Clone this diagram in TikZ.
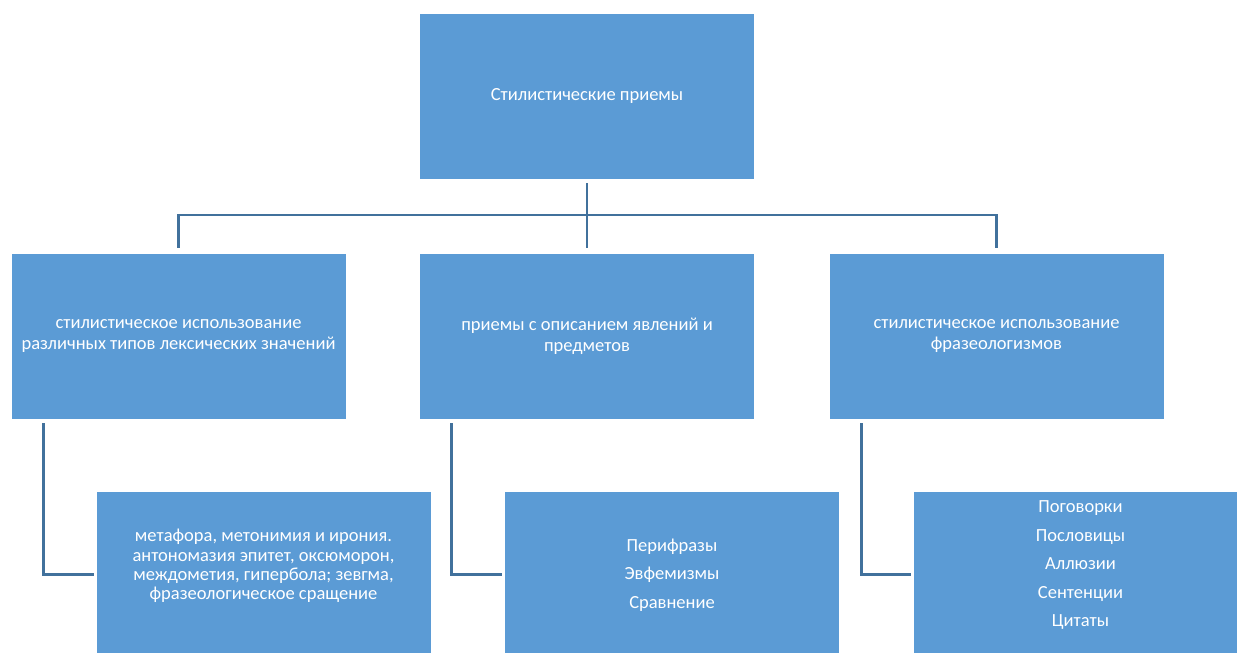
\documentclass[tikz,border=0pt]{standalone}
\usepackage{fontspec}
\setmainfont{Carlito}
\usepackage{xcolor}
\usepackage{tikz}

\definecolor{boxblue}{HTML}{5B9BD5}
\definecolor{lineblue}{HTML}{41719C}

\tikzset{
	blok/.style={fill=boxblue, draw=white, line width=0.6pt, minimum width=335, minimum height=166, inner sep=0pt},
	txt/.style={text=white, align=center, font=\fontsize{18.5}{19.3}\selectfont},
	con/.style={draw=lineblue, line width=2.8pt},
}

\begin{document}
\begin{tikzpicture}[x=1pt,y=-1pt]
	\clip (0,0) rectangle (1237,653);
	
	% top
	\node[blok,txt] (top) at (587,96) {Стилистические приемы};
	
	% middle row
	\node[blok,txt,font=\fontsize{18.5}{20.7}\selectfont] (lmid) at (178.5,336) {стилистическое использование\\различных типов лексических значений};
	\node[blok,txt,font=\fontsize{18.5}{20.7}\selectfont] (cmid) at (587,336) {приемы с описанием явлений и\\предметов};
	\node[blok,txt,font=\fontsize{18.5}{20.7}\selectfont] (rmid) at (996.5,336) {стилистическое использование\\фразеологизмов};
	
	% bottom row
	\node[blok] (lbot) at (263.5,574.5) {};
	\node[blok] (cbot) at (672,574.5) {};
	\node[blok] (rbot) at (1080.5,574.5) {};
	\node[txt] (ltext) at (263.5,566) {метафора, метонимия и ирония.\\антономазия эпитет, оксюморон,\\междометия, гипербола; зевгма,\\фразеологическое сращение};
	\node[txt,font=\fontsize{18.5}{28.4}\selectfont] (ctext) at (672,575) {Перифразы\\Эвфемизмы\\Сравнение};
	\node[txt,font=\fontsize{18.5}{28.5}\selectfont] (rtext) at (1080.5,565.3) {Поговорки\\Пословицы\\Аллюзии\\Сентенции\\Цитаты};
	
	\coordinate (bus) at (587,215);
	\draw[con,shorten <=4pt,shorten >=5pt] (top.south) -- (cmid.north);
	\draw[con,shorten <=5pt,shorten >=5pt] (lmid.north) |- (bus) -| (rmid.north);
	
	\draw[con,shorten <=4pt,shorten >=2pt] ([xshift=33]lmid.south west) |- (lbot.west);
	\draw[con,shorten <=4pt,shorten >=2pt] ([xshift=32]cmid.south west) |- (cbot.west);
	\draw[con,shorten <=4pt,shorten >=2pt] ([xshift=33]rmid.south west) |- (rbot.west);
\end{tikzpicture}
\end{document}
